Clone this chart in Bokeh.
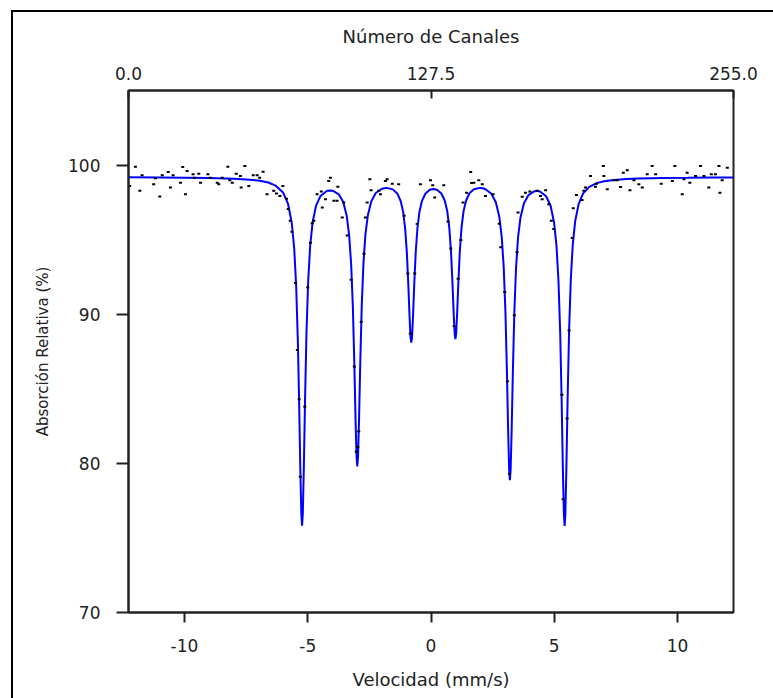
from bokeh.plotting import figure
from bokeh.models import Range1d, LinearAxis, FixedTicker, PrintfTickFormatter
from bokeh.embed import file_html
from bokeh.resources import INLINE

# ---- data ----
x_ticks = [-10, -5, 0, 5, 10]
y_ticks = [70, 80, 90, 100]
channel_ticks = [0.0, 127.5, 255.0]

# fitted curve (velocity mm/s, relative absorption %)
fit_v = [-12.27, -11, -10, -9, -8, -7.5, -7, -6.6, -6.3, -6.0, -5.8, -5.65, -5.55, -5.47, -5.40,
         -5.35, -5.30, -5.26, -5.23, -5.20, -5.16, -5.11, -5.05, -4.98, -4.90, -4.80, -4.66,
         -4.48, -4.23, -4.11, -3.99, -3.74, -3.56, -3.42, -3.32, -3.24, -3.17, -3.11, -3.06,
         -3.02, -2.99, -2.96, -2.92, -2.87, -2.81, -2.74, -2.66, -2.56, -2.42, -2.24, -1.99,
         -1.895, -1.79, -1.55, -1.37, -1.23, -1.13, -1.05, -0.98, -0.92, -0.87, -0.83, -0.80,
         -0.77, -0.73, -0.68, -0.62, -0.55, -0.47, -0.37, -0.23, -0.05, 0.095, 0.24, 0.42,
         0.56, 0.66, 0.74, 0.81, 0.87, 0.92, 0.96, 0.99, 1.02, 1.06, 1.11, 1.17, 1.24, 1.32,
         1.42, 1.56, 1.74, 1.99, 2.095, 2.2, 2.45, 2.63, 2.77, 2.87, 2.95, 3.02, 3.08, 3.13,
         3.17, 3.20, 3.23, 3.27, 3.32, 3.38, 3.45, 3.53, 3.63, 3.77, 3.95, 4.2, 4.31, 4.42,
         4.67, 4.85, 4.99, 5.09, 5.17, 5.24, 5.30, 5.35, 5.39, 5.42, 5.45, 5.49, 5.54, 5.60,
         5.67, 5.75, 5.85, 5.99, 6.17, 6.42, 6.72, 7.02, 7.42, 7.92, 8.42, 9.42, 10.42, 11.42,
         12.27]
fit_y = [99.18, 99.17, 99.15, 99.13, 99.09, 99.04, 98.96, 98.83, 98.62, 98.16, 97.41, 96.15,
         94.45, 91.94, 88.17, 84.20, 79.57, 76.61, 75.82, 76.61, 79.55, 84.18, 88.80, 92.28,
         94.61, 96.19, 97.29, 97.93, 98.26, 98.30, 98.28, 98.04, 97.52, 96.61, 95.31, 93.38,
         90.51, 86.69, 82.88, 80.44, 79.79, 80.44, 82.88, 86.70, 90.53, 93.41, 95.35, 96.65,
         97.58, 98.13, 98.41, 98.45, 98.47, 98.37, 98.10, 97.59, 96.86, 95.77, 94.15, 91.99,
         89.83, 88.45, 88.09, 88.45, 89.83, 91.99, 94.14, 95.77, 96.85, 97.58, 98.08, 98.34,
         98.39, 98.34, 98.09, 97.61, 96.90, 95.83, 94.25, 92.14, 90.04, 88.69, 88.33, 88.69,
         90.04, 92.14, 94.25, 95.84, 96.90, 97.61, 98.11, 98.38, 98.47, 98.45, 98.40, 98.08,
         97.51, 96.54, 95.17, 93.14, 90.12, 86.12, 82.12, 79.56, 78.88, 79.56, 82.11, 86.10,
         90.10, 93.11, 95.13, 96.49, 97.44, 97.98, 98.25, 98.27, 98.23, 97.91, 97.27, 96.17,
         94.60, 92.26, 88.78, 84.16, 79.54, 76.59, 75.81, 76.60, 79.55, 84.19, 88.82, 92.31,
         94.67, 96.26, 97.40, 98.10, 98.54, 98.79, 98.91, 99.00, 99.06, 99.10, 99.14, 99.15,
         99.17, 99.17]

# measured points
pts_v = [-12.22, -11.99, -11.81, -11.72, -11.25, -11.18, -11.00, -10.90, -10.66, -10.57,
         -10.46, -10.16, -10.07, -9.96, -9.89, -9.65, -9.59, -9.42, -9.35, -9.05, -8.95,
         -8.67, -8.61, -8.47, -8.24, -8.16, -8.06, -7.90, -7.73, -7.70, -7.55, -7.39, -7.21,
         -7.05, -6.95, -6.81, -6.65, -6.38, -6.27, -6.13, -6.01, -5.86, -5.79, -5.71, -5.64,
         -5.50, -5.42, -5.30, -5.12, -5.00, -4.89, -4.82, -4.75, -4.62, -4.45, -4.41, -4.28,
         -4.15, -4.08, -3.94, -3.81, -3.78, -3.60, -3.54, -3.40, -3.24, -3.11, -3.03, -2.93,
         -2.83, -2.72, -2.66, -2.59, -2.48, -2.43, -2.12, -2.05, -1.85, -1.78, -1.57, -1.31,
         -1.09, -0.94, -0.84, -0.66, -0.56, -0.43, -0.02, 0.07, 0.15, 0.52, 0.69, 0.80, 0.94,
         1.10, 1.21, 1.30, 1.44, 1.61, 1.65, 1.74, 1.94, 2.08, 2.21, 2.52, 2.77, 2.83, 2.99,
         3.38, 3.49, 3.53, 3.70, 3.83, 4.01, 4.31, 4.44, 4.51, 4.65, 4.78, 4.88, 4.98, 5.73,
         5.77, 5.90, 6.13, 6.20, 6.27, 6.47, 6.67, 6.71, 6.99, 7.01, 7.15, 7.42, 7.55, 7.69,
         7.80, 7.96, 8.07, 8.23, 8.43, 8.57, 8.77, 8.97, 9.11, 9.34, 9.79, 9.89, 10.19, 10.26,
         10.39, 10.50, 10.73, 10.93, 11.07, 11.27, 11.37, 11.54, 11.68, 11.72, 11.81, 12.02,
         3.10, 3.18, 5.31, 5.36, 5.52, 5.60, -5.35, -2.97]
pts_y = [98.60, 99.89, 98.27, 99.31, 98.71, 99.11, 97.89, 99.31, 99.53, 98.49,
         99.31, 98.82, 99.87, 98.05, 99.60, 99.38, 99.15, 99.42, 98.82, 99.38, 99.15,
         98.82, 98.71, 99.15, 99.89, 98.98, 98.82, 99.42, 99.27, 98.49, 99.93, 98.60, 99.31,
         99.31, 99.15, 99.55, 98.05, 98.27, 98.09, 97.93, 98.60, 97.75, 97.05, 96.27, 95.53,
         92.10, 87.60, 79.10, 83.80, 91.80, 94.80, 96.10, 96.27, 98.05, 98.22, 97.15, 97.71,
         98.93, 99.15, 97.60, 97.60, 98.55, 96.49, 97.49, 95.27, 92.31, 86.49, 80.78, 82.15,
         89.49, 94.05, 96.49, 97.49, 99.05, 98.31, 98.27, 98.05, 98.93, 99.05, 98.75, 98.71,
         96.60, 92.73, 88.70, 92.73, 96.05, 98.71, 98.98, 98.65, 97.82, 98.65, 96.22, 94.40, 89.20,
         92.38, 94.98, 97.49, 98.15, 99.53, 98.80, 98.82, 98.98, 98.71, 97.93, 98.05, 96.06, 94.49, 91.49,
         89.93, 94.15, 96.82, 97.87, 98.15, 98.22, 98.27, 97.93, 97.71, 98.31, 97.38, 96.27, 95.71, 95.11,
         97.11, 98.00, 97.65, 98.27, 98.49, 99.27, 98.55, 98.75, 99.93, 99.27, 98.38, 98.98, 98.98, 98.53,
         99.49, 99.65, 98.31, 98.98, 98.71, 98.49, 99.38, 99.93, 99.38, 98.75, 98.93, 99.93, 98.05, 99.05,
         99.49, 98.82, 99.27, 99.93, 99.27, 98.49, 99.38, 99.38, 99.93, 98.15, 98.98, 99.82,
         85.50, 79.30, 84.60, 77.60, 83.00, 88.90, 84.30, 81.10]

FONT = "DejaVu Sans"

p = figure(width=762, height=688, margin=(10, 0, 0, 11),
           x_range=Range1d(-12.27, 12.27), y_range=Range1d(70, 105),
           output_backend="svg", toolbar_location=None,
           min_border_left=117, min_border_top=80, min_border_right=40, min_border_bottom=86)
p.styles = {"box-shadow": "inset 2px 2px 0 0 #000000"}
p.border_fill_color = None
p.background_fill_color = "white"
p.outline_line_color = "#222222"
p.outline_line_width = 2
p.xgrid.visible = False
p.ygrid.visible = False

p.extra_x_ranges = {"ch": Range1d(0, 255)}
top = LinearAxis(x_range_name="ch", ticker=FixedTicker(ticks=channel_ticks),
                 formatter=PrintfTickFormatter(format="%.1f"), axis_label="Número de Canales")
p.add_layout(top, "above")

for ax in p.below:
    ax.ticker = FixedTicker(ticks=x_ticks)
    ax.major_label_overrides = {t: str(t) for t in x_ticks}
    ax.axis_label = "Velocidad (mm/s)"
    ax.major_tick_out = 10
    ax.major_tick_in = 0
    ax.major_label_standoff = 16
    ax.axis_label_standoff = 14
    ax.axis_label_text_font_size = "18px"
for ax in p.left:
    ax.ticker = FixedTicker(ticks=y_ticks)
    ax.axis_label = "Absorción Relativa (%)"
    ax.major_tick_out = 12
    ax.major_tick_in = 0
    ax.major_label_standoff = 16
    ax.axis_label_standoff = 13
    ax.axis_label_text_font_size = "15px"
top.major_tick_out = 0
top.major_tick_in = 8
top.major_label_standoff = 11
top.axis_label_standoff = 17
top.axis_label_text_font_size = "18px"

for ax in p.below + p.left + p.above:
    ax.minor_tick_line_color = None
    ax.axis_line_color = "#222222"
    ax.axis_line_width = 2
    ax.major_tick_line_color = "#222222"
    ax.major_tick_line_width = 2
    ax.major_label_text_font = FONT
    ax.major_label_text_font_size = "17px"
    ax.major_label_text_color = "#222222"
    ax.axis_label_text_font = FONT
    ax.axis_label_text_font_style = "normal"
    ax.axis_label_text_color = "#222222"

p.line(fit_v, fit_y, line_color="#0000FF", line_width=2)
p.rect(x=pts_v, y=pts_y, width=3, height=2, width_units="screen", height_units="screen",
       fill_color="black", line_color=None)

open("out.html", "w").write(file_html(p, INLINE))
